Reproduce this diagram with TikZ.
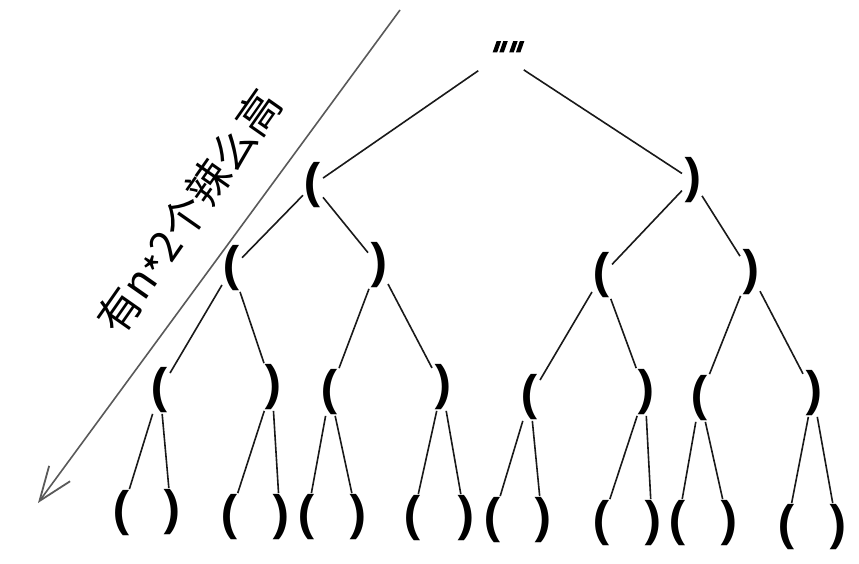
\documentclass[tikz,border=0pt]{standalone}
\usepackage{fontspec}
\setmainfont{Noto Sans CJK SC}
\newfontfamily\parenfont{Open Sans}
\newfontfamily\quotefont[FakeSlant=0.35,FakeBold=4]{DejaVu Sans}
\usetikzlibrary{arrows.meta}

\tikzset{
  par/.style={font=\parenfont\bfseries\fontsize{52}{52}\selectfont, inner sep=1pt},
  edge/.style={line width=1.6pt, black!90},
}

\begin{document}
\begin{tikzpicture}[x=1pt, y=-1pt]
\useasboundingbox (0,0) rectangle (859,564);
% root
\node[font=\quotefont\fontsize{36}{36}\selectfont, inner sep=6pt] (q) at (501,55) {""};
% level 1
\node[par] (l1a) at (313,185) {(};
\node[par] (l1b) at (692,180) {)};
% level 2
\node[par] (l2a) at (232,268) {(};
\node[par] (l2b) at (378,265) {)};
\node[par] (l2c) at (602,275) {(};
\node[par] (l2d) at (750,272) {)};
% level 3
\node[par] (l3a) at (160,390) {(};
\node[par] (l3b) at (272,387) {)};
\node[par] (l3c) at (330,392) {(};
\node[par] (l3d) at (442,387) {)};
\node[par] (l3e) at (530,397) {(};
\node[par] (l3f) at (645,392) {)};
\node[par] (l3g) at (700,398) {(};
\node[par] (l3h) at (813,393) {)};
% leaves
\node[par] (l4a) at (122,513) {(};
\node[par] (l4b) at (171,512) {)};
\node[par] (l4c) at (230,517) {(};
\node[par] (l4d) at (280,517) {)};
\node[par] (l4e) at (307,517) {(};
\node[par] (l4f) at (357,517) {)};
\node[par] (l4g) at (413,518) {(};
\node[par] (l4h) at (465,518) {)};
\node[par] (l4i) at (493,520) {(};
\node[par] (l4j) at (542,520) {)};
\node[par] (l4k) at (602,523) {(};
\node[par] (l4l) at (652,523) {)};
\node[par] (l4m) at (678,523) {(};
\node[par] (l4n) at (728,523) {)};
\node[par] (l4o) at (787,527) {(};
\node[par] (l4p) at (837,527) {)};
% edges
\draw[edge] (q) -- (l1a);
\draw[edge] (q) -- (l1b);
\draw[edge] (l1a) -- (l2a);
\draw[edge] (l1a) -- (l2b);
\draw[edge] (l1b) -- (l2c);
\draw[edge] (l1b) -- (l2d);
\draw[edge] (l2a) -- (l3a);
\draw[edge] (l2a) -- (l3b);
\draw[edge] (l2b) -- (l3c);
\draw[edge] (l2b) -- (l3d);
\draw[edge] (l2c) -- (l3e);
\draw[edge] (l2c) -- (l3f);
\draw[edge] (l2d) -- (l3g);
\draw[edge] (l2d) -- (l3h);
\draw[edge] (l3a) -- (l4a);
\draw[edge] (l3a) -- (l4b);
\draw[edge] (l3b) -- (l4c);
\draw[edge] (l3b) -- (l4d);
\draw[edge] (l3c) -- (l4e);
\draw[edge] (l3c) -- (l4f);
\draw[edge] (l3d) -- (l4g);
\draw[edge] (l3d) -- (l4h);
\draw[edge] (l3e) -- (l4i);
\draw[edge] (l3e) -- (l4j);
\draw[edge] (l3f) -- (l4k);
\draw[edge] (l3f) -- (l4l);
\draw[edge] (l3g) -- (l4m);
\draw[edge] (l3g) -- (l4n);
\draw[edge] (l3h) -- (l4o);
\draw[edge] (l3h) -- (l4p);
% height arrow
\coordinate (top) at (400,10);
\coordinate (tip) at (38,503);
\draw[line width=1.6pt, black!65, -{Straight Barb[length=34pt,width=26pt,line width=1.8pt]}] (top) -- (tip);
\node[rotate=55, font=\fontsize{43}{43}\selectfont] (h) at (191,213) {有n\raisebox{-0.22em}{*}2个辣么高};
\end{tikzpicture}
\end{document}
